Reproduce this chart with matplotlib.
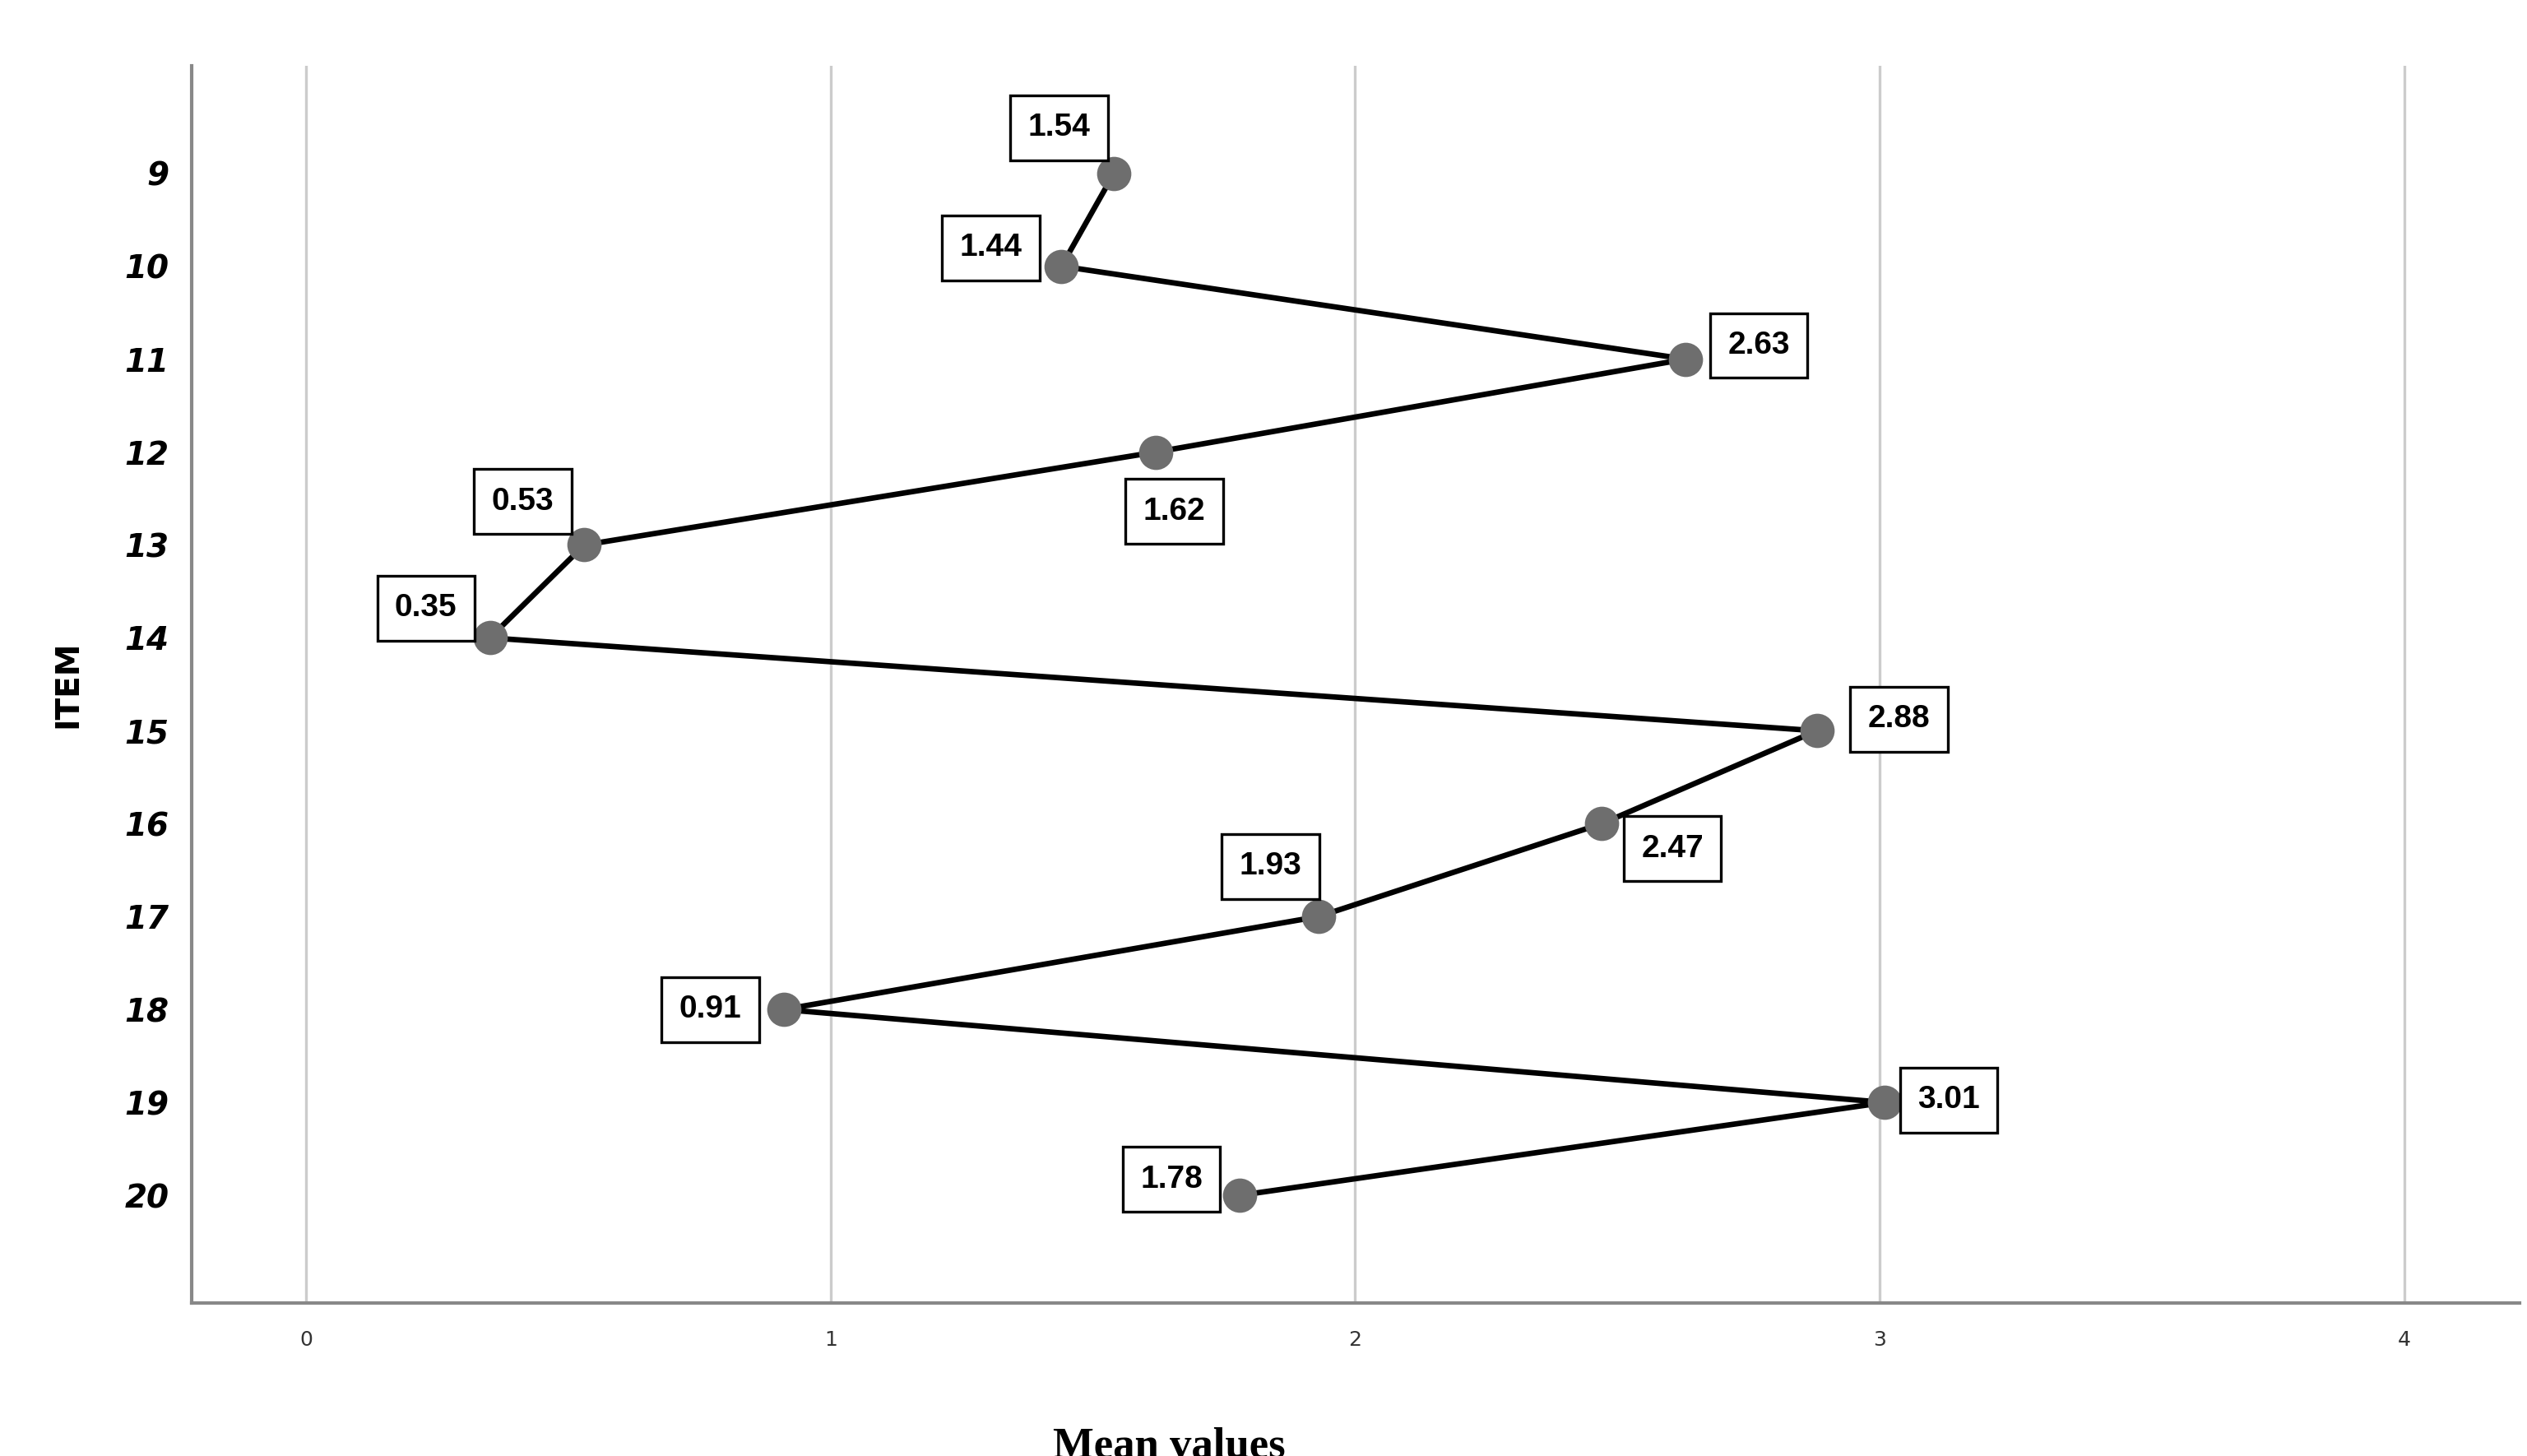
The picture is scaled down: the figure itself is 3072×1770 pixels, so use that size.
import matplotlib
matplotlib.use("Agg")
import matplotlib.pyplot as plt

items = [9, 10, 11, 12, 13, 14, 15, 16, 17, 18, 19, 20]
means = [1.54, 1.44, 2.63, 1.62, 0.53, 0.35, 2.88, 2.47, 1.93, 0.91, 3.01, 1.78]
labels = ["1.54", "1.44", "2.63", "1.62", "0.53", "0.35", "2.88", "2.47", "1.93", "0.91", "3.01", "1.78"]
# label offsets in points (dx, dy)
offsets = [(-24, 20), (-31, 8), (32, 6), (8, -26), (-27, 19), (-28, 13),
           (36, 5), (31, -11), (-21, 22), (-32, 0), (28, 1), (-30, 7)]

fig = plt.figure(figsize=(15.36, 8.85), dpi=200)
ax = fig.add_axes([0.076, 0.105, 0.921, 0.85])
ax.set_xlim(-0.218, 4.22)
ax.set_ylim(21.16, 7.84)
ax.set_xticks([0, 1, 2, 3, 4])
ax.set_yticks(items)
ax.xaxis.grid(True, color="#cccccc", linewidth=1.2)
ax.set_axisbelow(True)
for s in ["top", "right"]:
    ax.spines[s].set_visible(False)
for s in ["left", "bottom"]:
    ax.spines[s].set_color("#888888")
    ax.spines[s].set_linewidth(1.5)
ax.tick_params(axis="y", length=0, labelsize=14, pad=10)
ax.tick_params(axis="x", length=0, labelsize=9, pad=12, labelcolor="#333333")
for t in ax.get_yticklabels():
    t.set_fontweight("bold"); t.set_fontstyle("italic")

ax.plot(means, items, color="black", linewidth=2.4, zorder=2)
ax.plot(means, items, "o", color="#6e6e6e", markersize=14, zorder=3)
for x, y, lab, (dx, dy) in zip(means, items, labels, offsets):
    ax.annotate(lab, (x, y), xytext=(dx, dy), textcoords="offset points",
                ha="center", va="center", fontsize=14, fontweight="bold",
                family="Liberation Sans",
                bbox=dict(boxstyle="square,pad=0.55", fc="white", ec="black", lw=1.2),
                zorder=4)

ax.set_ylabel("ITEM", fontsize=14, fontweight="bold", labelpad=18)
ax.set_xlabel("Mean values", fontsize=19, fontweight="bold", family="Liberation Serif", labelpad=22)
ax.xaxis.set_label_coords(0.42, -0.1)
fig.savefig("out.png", dpi=200)
